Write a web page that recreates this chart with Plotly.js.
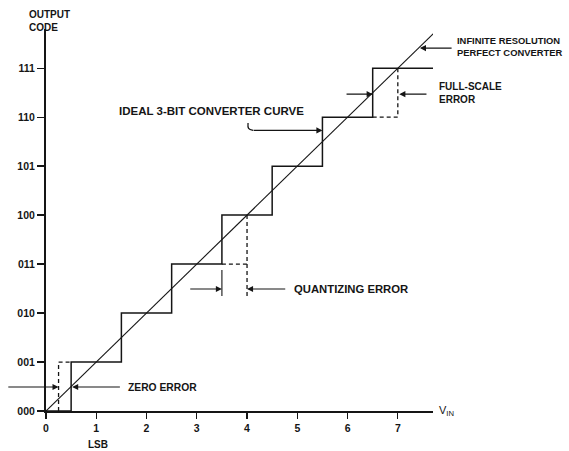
<!DOCTYPE html>
<html><head><meta charset="utf-8">
<script src="https://cdn.plot.ly/plotly-3.0.1.min.js"></script>
<style>html,body{margin:0;padding:0;background:#fff}#chart{width:569px;height:451px}</style>
</head><body><div id="chart"></div>
<script>
// Data
const codeLabels = ['000','001','010','011','100','101','110','111'];
const codeValues = [0,1,2,3,4,5,6,7];
const lsbTicks = [0,1,2,3,4,5,6,7];
// Ideal 3-bit converter: transition points (LSB) and output codes
const stairX = [0,0.5,1.5,2.5,3.5,4.5,5.5,6.5,7.75];
const stairY = [0,1,2,3,4,5,6,7,7];
// Infinite resolution perfect converter
const idealX = [0,7.83];
const idealY = [0,7.83];
// Zero error (offset converter first step)
const zeroErrX = [0.25,0.25,0.5];
const zeroErrY = [0,1,1];
// Quantizing error construction
const quantHX = [3.5,4];
const quantHY = [3,3];
const quantVX = [4,4];
const quantVY = [4,2.35];
const quantExtX = [3.5,3.5];
const quantExtY = [2.88,2.35];
// Full-scale error construction
const fsErrX = [6.5,7,7];
const fsErrY = [6,6,7];
// Hook of the "ideal curve" callout
const hookX = [4.02,4.03,4.12];
const hookY = [5.88,5.77,5.73];

const ink = '#151515';
const F = 'Liberation Sans, Arial, sans-serif';
function line(x,y,opts){
  return Object.assign({x:x,y:y,mode:'lines',type:'scatter',hoverinfo:'skip',
    showlegend:false,cliponaxis:false,line:{color:ink,width:1.3}},opts||{});
}
const traces = [
  line(stairX,stairY,{line:{color:ink,width:1.5,shape:'hv'}}),
  line(idealX,idealY,{line:{color:ink,width:1.1}}),
  line(zeroErrX,zeroErrY,{line:{color:ink,width:1.3,dash:'4px,3px'}}),
  line(quantHX,quantHY,{line:{color:ink,width:1.3,dash:'4px,3px'}}),
  line(quantVX,quantVY,{line:{color:ink,width:1.3,dash:'4px,3px'}}),
  line(quantExtX,quantExtY,{line:{color:ink,width:1.1}}),
  line(fsErrX,fsErrY,{line:{color:ink,width:1.3,dash:'4px,3px'}}),
  line(hookX,hookY,{line:{color:ink,width:1.3,shape:'spline'}})
];

function arrow(tx,ty,hx,hy){
  return {x:hx,y:hy,ax:tx,ay:ty,xref:'x',yref:'y',axref:'x',ayref:'y',
    showarrow:true,arrowhead:2,arrowsize:1.1,arrowwidth:1.1,arrowcolor:ink,text:''};
}
function label(txt,x,y,size,xref,yref,xanchor){
  return {x:x,y:y,xref:xref||'x',yref:yref||'y',text:txt,showarrow:false,
    xanchor:xanchor||'left',yanchor:'middle',align:'left',
    font:{family:F,size:size||10,color:ink,weight:'bold'}};
}

const annotations = [
  arrow(-0.78,0.49,0.25,0.49),
  arrow(1.5,0.49,0.52,0.49),
  label('ZERO ERROR',1.59,0.49,10.3),
  arrow(2.84,2.49,3.5,2.49),
  arrow(4.79,2.49,4.0,2.49),
  label('QUANTIZING ERROR',4.89,2.49,11.3),
  arrow(5.95,6.47,6.5,6.47),
  arrow(7.6,6.47,7.03,6.47),
  label('FULL-SCALE<br>ERROR',1.0103,0.832,10,'paper','paper'),
  arrow(8.1,7.41,7.44,7.41),
  label('INFINITE RESOLUTION<br>PERFECT CONVERTER',1.057,0.953,9.4,'paper','paper'),
  arrow(4.1,5.73,5.5,5.73),
  label('IDEAL 3-BIT CONVERTER CURVE',1.41,6.12,11.5),
  label('LSB',1.03,-0.089,10,'x','paper','center'),
  label('OUTPUT<br>CODE',-0.049,1.02,10,'paper','paper'),
  {x:1.01,y:0,xref:'paper',yref:'paper',text:'V<sub>IN</sub>',showarrow:false,xanchor:'left',yanchor:'middle',align:'left',
    font:{family:F,size:11,color:ink}}
];

const layout = {
  width:569,height:451,
  margin:{l:46,r:136,t:29,b:40},
  paper_bgcolor:'#fff',plot_bgcolor:'#fff',
  showlegend:false,
  xaxis:{range:[0,7.7],showgrid:false,zeroline:false,showline:true,linecolor:ink,linewidth:2,
    ticks:'outside',ticklen:6,tickwidth:1.3,tickcolor:ink,tickvals:lsbTicks,ticktext:lsbTicks.map(String),
    tickfont:{family:F,size:10.5,color:ink,weight:'bold'},fixedrange:true},
  yaxis:{range:[0,7.8],showgrid:false,zeroline:false,showline:true,linecolor:ink,linewidth:2,
    ticks:'outside',ticklen:7,tickwidth:1.3,tickcolor:ink,tickvals:codeValues,ticktext:codeLabels,
    tickfont:{family:F,size:10.5,color:ink,weight:'bold'},fixedrange:true},
  annotations:annotations
};
Plotly.newPlot('chart',traces,layout,{staticPlot:true,displayModeBar:false});
</script></body></html>
